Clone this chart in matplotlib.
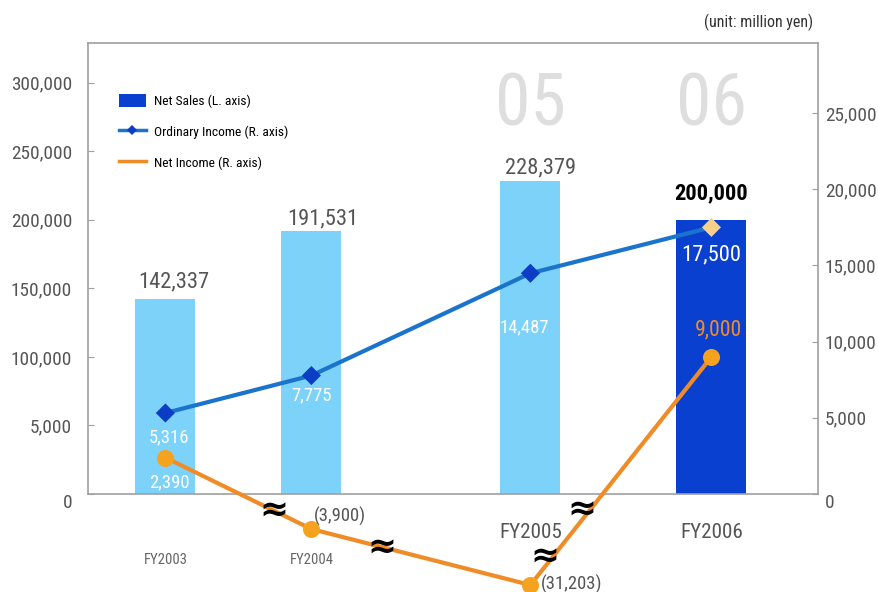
import numpy as np
import matplotlib
matplotlib.use("Agg")
import matplotlib.pyplot as plt
from matplotlib import font_manager
from matplotlib.font_manager import FontProperties
from matplotlib.textpath import TextToPath
from matplotlib.patches import Patch
from matplotlib.lines import Line2D

# ---- data -------------------------------------------------------------
years = ["FY2003", "FY2004", "FY2005", "FY2006"]
net_sales = [142337, 191531, 228379, 200000]
ordinary_income = [5316, 7775, 14487, 17500]
net_income = [2390, -3900, -31203, 9000]

sales_labels = ["142,337", "191,531", "228,379", "200,000"]
ordinary_labels = ["5,316", "7,775", "14,487", "17,500"]
net_labels = ["2,390", "(3,900)", "(31,203)", "9,000"]

left_ticks = [0, 50000, 100000, 150000, 200000, 250000, 300000]
left_tick_labels = ["0", "5,000", "100,000", "150,000", "200,000", "250,000", "300,000"]
right_ticks = [0, 5000, 10000, 15000, 20000, 25000]
right_tick_labels = ["0", "5,000", "10,000", "15,000", "20,000", "25,000"]
watermarks = ["05", "06"]

# ---- fonts: prefer a condensed face, size text to the same widths -------
candidates = ["Roboto Condensed", "DejaVu Sans Condensed", "Liberation Sans Narrow",
              "Open Sans Condensed", "Liberation Sans"]
FACE = "DejaVu Sans"
for name in candidates:
    try:
        font_manager.findfont(FontProperties(family=name), fallback_to_default=False)
        FACE = name
        break
    except Exception:
        continue
NARROW = [FACE, "DejaVu Sans"]
_w, _h, _d = TextToPath().get_text_width_height_descent(
    "0000000000", FontProperties(family=FACE, size=100), ismath=False)
DIGIT_EM = _w / 1000.0
SQUEEZE = 0.456 / DIGIT_EM


def fs(pt):
    """Font size giving the same digit width as a narrow face at `pt`."""
    return pt * SQUEEZE


# ---- layout / style ---------------------------------------------------
x_slots = [0.53, 1.53, 3.03, 4.27]
bar_widths = [0.41, 0.41, 0.41, 0.48]
bar_colors = ["#7DD2FA", "#7DD2FA", "#7DD2FA", "#0A40D0"]
ord_marker_colors = ["#0B3EC4", "#0B3EC4", "#0B3EC4", "#F8D08A"]
GREY = "#555555"
LINE_BLUE = "#1B74CC"
ORANGE = "#F08C28"

# compressed scale below zero on the income axis (broken axis look)
B, C = 2126.0, 2000.0


def fwd(v):
    v = np.asarray(v, dtype=float)
    return np.where(v >= 0, v, -B * np.log1p(np.clip(-v, 0, None) / C))


def inv(u):
    u = np.asarray(u, dtype=float)
    return np.where(u >= 0, u, -C * np.expm1(np.clip(-u, 0, None) / B))


fig = plt.figure(figsize=(8.79, 5.92), dpi=100)
ax = fig.add_axes([88 / 879, 1 - 494 / 592, 730 / 879, 451 / 592])
ax.set_xlim(0, 5.0)
ax.set_ylim(0, 329000)

for s in ax.spines.values():
    s.set_color("#A0A0A0")
    s.set_linewidth(1.2)

# net sales bars
ax.bar(x_slots, net_sales, width=bar_widths, color=bar_colors, zorder=2)

# faint year watermarks above the last two bars
for xs, wm in zip(x_slots[2:], watermarks):
    ax.text(xs, 0.86, wm, transform=ax.get_xaxis_transform(), ha="center",
            va="center", fontsize=fs(56), color="#DEDEDE", family=NARROW, zorder=1)

# net sales value labels
sales_offsets = [(8, 6), (11, 2), (10, 2), (0, 16)]
for i, (xs, v, lab) in enumerate(zip(x_slots, net_sales, sales_labels)):
    last = i == len(net_sales) - 1
    ax.annotate(lab, (xs, v), xytext=sales_offsets[i], textcoords="offset pixels",
                ha="center", va="bottom", fontsize=fs(17.5), family=NARROW,
                color="black" if last else GREY,
                fontweight="bold" if last else "normal", zorder=5)

ax.set_xticks([])
ax.set_yticks(left_ticks)
ax.set_yticklabels(left_tick_labels)
ax.tick_params(axis="y", direction="in", length=4, color="#A0A0A0", pad=11.5,
               labelsize=fs(15), labelcolor=GREY)
for lab in ax.get_yticklabels():
    lab.set_family(NARROW)
ax.yaxis.get_major_ticks()[0].label1.set_verticalalignment("top")

# category labels, the later years are emphasised
for i, (xs, yr) in enumerate(zip(x_slots, years)):
    big = i >= 2
    ax.text(xs, -0.085 if big else -0.146, yr, transform=ax.get_xaxis_transform(),
            ha="center", va="center", fontsize=fs(16.5) if big else fs(11.5),
            color=GREY if big else "#666666", family=NARROW)

# ---- income lines on the right axis ----------------------------------
ax2 = ax.twinx()
ax2.set_yscale("function", functions=(fwd, inv))
ax2.set_ylim(0, 29600)
ax2.set_xlim(0, 5.0)
for s in ax2.spines.values():
    s.set_visible(False)
ax2.set_yticks(right_ticks)
ax2.set_yticklabels(right_tick_labels)
ax2.yaxis.set_minor_locator(matplotlib.ticker.NullLocator())
ax2.tick_params(axis="y", direction="in", length=4, color="#A0A0A0", pad=5,
                labelsize=fs(15), labelcolor=GREY)
for lab in ax2.get_yticklabels():
    lab.set_family(NARROW)
ax2.yaxis.get_major_ticks()[0].label2.set_verticalalignment("top")

ax2.plot(x_slots, ordinary_income, color=LINE_BLUE, lw=3, zorder=3, clip_on=False)
ax2.scatter(x_slots, ordinary_income, marker="D", s=95, c=ord_marker_colors,
            zorder=4, clip_on=False, linewidths=0)
ax2.plot(x_slots, net_income, color=ORANGE, lw=3, zorder=3, clip_on=False)
ax2.scatter(x_slots, net_income, marker="o", s=150, color="#F5A21E",
            zorder=4, clip_on=False, linewidths=0)

ord_offsets = [(4, -24), (0, -20), (-6, -54), (0, -28)]
for xs, v, lab, off in zip(x_slots, ordinary_income, ordinary_labels, ord_offsets):
    ax2.annotate(lab, (xs, v), xytext=off, textcoords="offset pixels",
                 ha="center", va="center",
                 fontsize=fs(17.5) if lab == "17,500" else fs(14.5),
                 color="white", family=NARROW, zorder=6, annotation_clip=False)

net_styles = [
    dict(xytext=(4, -25), ha="center", color="white", fontsize=fs(14.5)),
    dict(xytext=(29, 13), ha="center", color=GREY, fontsize=fs(14.5)),
    dict(xytext=(10, 1), ha="left", color=GREY, fontsize=fs(14.5)),
    dict(xytext=(7, 27), ha="center", color=ORANGE, fontsize=fs(17)),
]
for xs, v, lab, st in zip(x_slots, net_income, net_labels, net_styles):
    ax2.annotate(lab, (xs, v), textcoords="offset pixels", va="center",
                 family=NARROW, zorder=6, annotation_clip=False, **st)

# axis-break marks on the net income line
for bx, by in [(0.255, -0.036), (0.402, -0.120), (0.676, -0.034), (0.626, -0.139)]:
    ax2.text(bx, by, "\u2248", transform=ax2.transAxes, ha="center", va="center",
             fontsize=25, fontweight="bold", color="black", zorder=7,
             family="DejaVu Sans")

# legend
handles = [
    Patch(facecolor="#0A40D0", edgecolor="none"),
    Line2D([], [], color=LINE_BLUE, lw=2.5, marker="D", markersize=5,
           markerfacecolor="#0B3EC4", markeredgewidth=0),
    Line2D([], [], color=ORANGE, lw=2.5),
]
ax2.legend(handles, ["Net Sales (L. axis)", "Ordinary Income (R. axis)",
                     "Net Income (R. axis)"],
           loc="upper left", bbox_to_anchor=(0.042, 0.887), frameon=False,
           borderpad=0, borderaxespad=0, handlelength=2.0, handleheight=1.1,
           handletextpad=0.6, labelspacing=1.25,
           prop={"family": NARROW, "size": fs(10.5)})

fig.text(813 / 879, 1 - 22 / 592, "(unit: million yen)", ha="right", va="center",
         fontsize=fs(12.5), color="#333333", family=NARROW)

fig.savefig("out.png", dpi=100)
